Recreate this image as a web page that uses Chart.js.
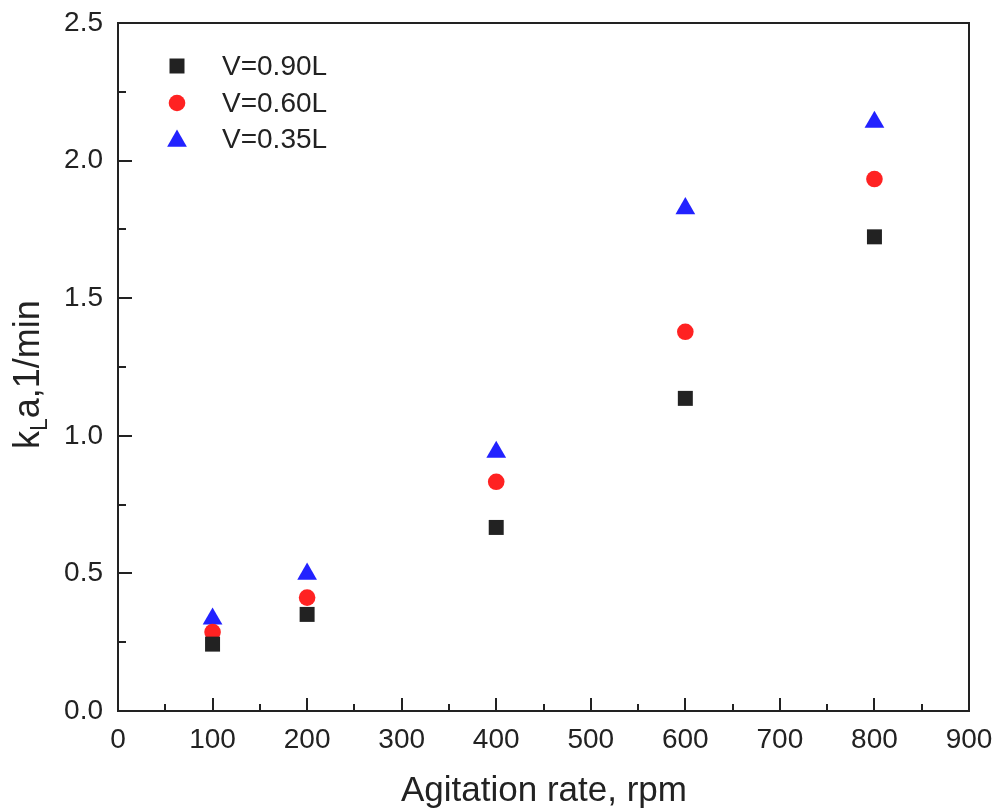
<!DOCTYPE html>
<html>
<head>
<meta charset="utf-8">
<script src="https://cdn.jsdelivr.net/npm/chart.js@4.4.1/dist/chart.umd.min.js"></script>
<style>
  html, body { margin: 0; padding: 0; background: #fff; }
  #wrap { width: 999px; height: 809px; }
</style>
</head>
<body>
<div id="wrap"><canvas id="kla"></canvas></div>
<script>
// agitation rate (rpm) and kLa (1/min) for the three liquid volumes
const rpm = [100, 200, 400, 600, 800];
const kla090 = [0.243, 0.351, 0.667, 1.136, 1.723];
const kla060 = [0.287, 0.412, 0.833, 1.378, 1.933];
const kla035 = [0.335, 0.498, 0.941, 1.826, 2.140];

const seriesNames = ['V=0.90L', 'V=0.60L', 'V=0.35L'];
const xTicks = [0, 100, 200, 300, 400, 500, 600, 700, 800, 900];
const yTicks = [0.0, 0.5, 1.0, 1.5, 2.0, 2.5];

const ink = '#222222';
const FONT = '"Liberation Sans", Arial, Helvetica, sans-serif';

function toPoints(ys) {
  return rpm.map((x, i) => ({ x: x, y: ys[i] }));
}

const markers = [
  { style: 'rect', radius: 10.6, color: '#222222' },
  { style: 'circle', radius: 8.3, color: '#ff2222' },
  { style: 'triangle', radius: 11.4, color: '#2222ff' }
];

// inward tick marks, closed frame, legend and axis titles
const decorations = {
  id: 'decorations',
  afterDraw(chart) {
    const { ctx, chartArea: a, scales: { x, y } } = chart;
    ctx.save();
    ctx.strokeStyle = ink;
    ctx.lineWidth = 2;
    ctx.strokeRect(a.left, a.top, a.right - a.left, a.bottom - a.top);

    ctx.beginPath();
    for (let v = 0; v <= 900; v += 50) {
      const px = Math.round(x.getPixelForValue(v));
      const len = v % 100 === 0 ? 13 : 7;
      ctx.moveTo(px, a.bottom);
      ctx.lineTo(px, a.bottom - len);
    }
    for (let v = 0; v <= 2.5; v += 0.25) {
      const py = Math.round(y.getPixelForValue(v));
      const len = Math.abs(v * 2 - Math.round(v * 2)) < 1e-6 ? 14 : 8;
      ctx.moveTo(a.left, py);
      ctx.lineTo(a.left + len, py);
    }
    ctx.stroke();

    // legend
    ctx.font = '28px ' + FONT;
    ctx.textBaseline = 'middle';
    ctx.textAlign = 'left';
    const rows = [66, 103, 139];
    chart.data.datasets.forEach((ds, i) => {
      const m = markers[i];
      ctx.fillStyle = m.color;
      ctx.strokeStyle = m.color;
      ctx.lineWidth = 0;
      Chart.helpers.drawPoint(ctx, { pointStyle: m.style, radius: m.radius, rotation: 0, borderWidth: 0 }, 177, rows[i] + (m.style === 'triangle' ? 2 : 0));
      ctx.fillStyle = ink;
      ctx.fillText(ds.label, 222, rows[i] + 1);
    });

    // x title
    ctx.font = '35px ' + FONT;
    ctx.textAlign = 'center';
    ctx.textBaseline = 'alphabetic';
    ctx.fillText('Agitation rate, rpm', 544, 801);

    // y title with subscript L
    ctx.translate(39, 449);
    ctx.rotate(-Math.PI / 2);
    ctx.textAlign = 'left';
    ctx.font = '36px ' + FONT;
    ctx.fillText('k', 0, 0);
    let off = ctx.measureText('k').width;
    ctx.font = '23px ' + FONT;
    ctx.fillText('L', off, 8);
    off += ctx.measureText('L').width;
    ctx.font = '36px ' + FONT;
    ctx.fillText('a,1/min', off, 0);
    ctx.restore();
  }
};

function noPad(scale) {
  scale.paddingTop = 0;
  scale.paddingBottom = 0;
  scale.paddingLeft = 0;
  scale.paddingRight = 0;
}

new Chart(document.getElementById('kla'), {
  type: 'scatter',
  data: {
    datasets: [kla090, kla060, kla035].map((vals, i) => ({
      label: seriesNames[i],
      data: toPoints(vals),
      pointStyle: markers[i].style,
      pointRadius: markers[i].radius,
      pointHoverRadius: markers[i].radius,
      backgroundColor: markers[i].color,
      borderColor: markers[i].color,
      borderWidth: 0
    }))
  },
  options: {
    responsive: true,
    maintainAspectRatio: false,
    animation: false,
    layout: { autoPadding: false, padding: { top: 23, right: 30, left: 0, bottom: 0 } },
    plugins: {
      legend: { display: false },
      tooltip: { enabled: false }
    },
    scales: {
      x: {
        type: 'linear',
        min: 0,
        max: 900,
        afterFit(scale) { scale.height = 98; noPad(scale); },
        afterBuildTicks(scale) { scale.ticks = xTicks.map(v => ({ value: v })); },
        grid: { display: false, drawTicks: false },
        border: { display: false },
        ticks: {
          padding: 12,
          color: ink,
          font: { family: FONT, size: 28 },
          maxRotation: 0,
          autoSkip: false
        }
      },
      y: {
        type: 'linear',
        min: 0,
        max: 2.5,
        afterFit(scale) { scale.width = 118; noPad(scale); },
        afterBuildTicks(scale) { scale.ticks = yTicks.map(v => ({ value: v })); },
        grid: { display: false, drawTicks: false },
        border: { display: false },
        ticks: {
          padding: 15,
          color: ink,
          font: { family: FONT, size: 28 },
          autoSkip: false,
          callback: v => v.toFixed(1)
        }
      }
    }
  },
  plugins: [decorations]
});
</script>
</body>
</html>
